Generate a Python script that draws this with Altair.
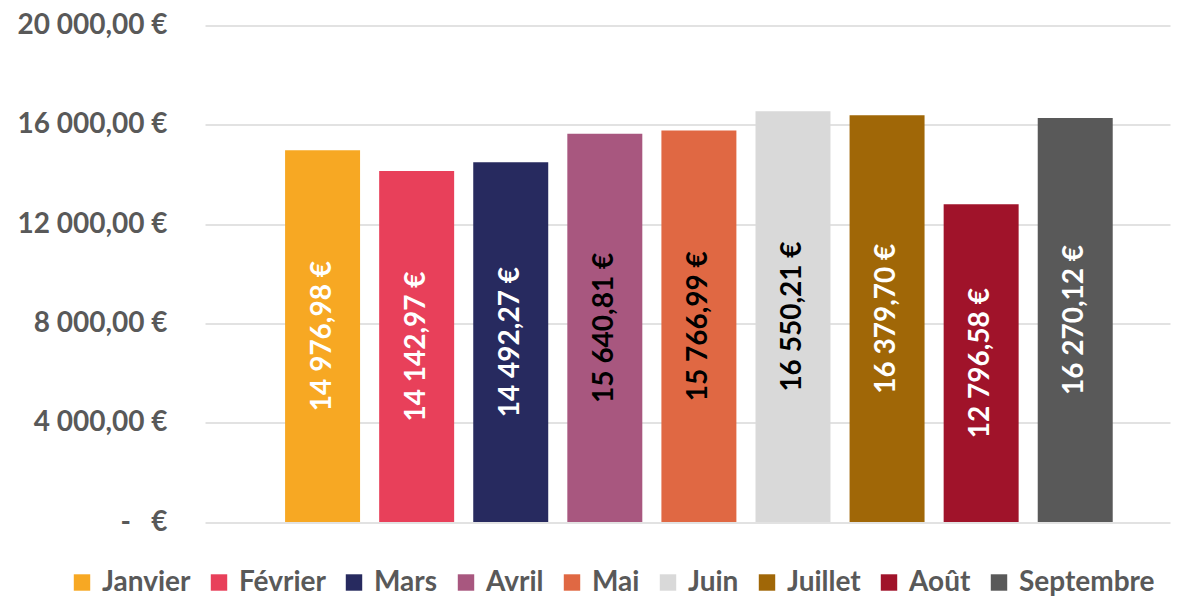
import altair as alt
import pandas as pd

months = ["Janvier", "Février", "Mars", "Avril", "Mai", "Juin", "Juillet", "Août", "Septembre"]
values = [14976.98, 14142.97, 14492.27, 15640.81, 15766.99, 16550.21, 16379.70, 12796.58, 16270.12]
bar_colors = ["#F7A823", "#E8405A", "#272A5F", "#A8577F", "#E06843",
              "#D9D9D9", "#A06707", "#A0132A", "#595959"]
label_colors = ["#FFFFFF", "#FFFFFF", "#FFFFFF", "#000000", "#000000",
                "#000000", "#FFFFFF", "#FFFFFF", "#FFFFFF"]
tick_values = [0, 4000, 8000, 12000, 16000, 20000]
tick_labels = ["-\u00a0\u00a0\u00a0€", "4\u00a0000,00\u00a0€", "8\u00a0000,00\u00a0€",
               "12\u00a0000,00\u00a0€", "16\u00a0000,00\u00a0€", "20\u00a0000,00\u00a0€"]


def fr(v):
    s = f"{v:,.2f}"
    return s.replace(",", "\u00a0").replace(".", ",") + "\u00a0€"


df = pd.DataFrame({
    "mois": months,
    "valeur": values,
    "label": [fr(v) for v in values],
    "lcolor": label_colors,
})

FONT = "Lato"
GRAY = "#595959"
FS = 28

label_expr = " : ".join(
    f"datum.value == {v} ? '{t}'" for v, t in zip(tick_values, tick_labels)
) + " : ''"

xenc = alt.X("mois:N", sort=months, axis=None,
             scale=alt.Scale(paddingInner=0.203, paddingOuter=0.73, align=0.583))

bars = alt.Chart(df).mark_bar().encode(
    x=xenc,
    y=alt.Y("valeur:Q",
            scale=alt.Scale(domain=[0, 20000], nice=False),
            axis=alt.Axis(values=tick_values, labelExpr=label_expr, title=None,
                          domain=False, ticks=False, grid=True,
                          gridColor="#D9D9D9", gridWidth=1.5,
                          labelFont=FONT, labelFontSize=FS, labelFontWeight="bold",
                          labelColor=GRAY, labelPadding=38)),
    color=alt.Color("mois:N", sort=months,
                    scale=alt.Scale(domain=months, range=bar_colors),
                    legend=alt.Legend(title=None, orient="none", direction="horizontal",
                                      legendX=-137, legendY=543,
                                      symbolType="square", symbolSize=270,
                                      symbolStrokeWidth=0, symbolOpacity=1,
                                      labelFont=FONT, labelFontSize=FS,
                                      labelFontWeight="bold", labelColor=GRAY,
                                      labelOffset=6, columnPadding=14,
                                      columns=9, labelLimit=400)),
)

texts = alt.Chart(df).transform_calculate(
    mid="datum.valeur / 2"
).mark_text(angle=270, align="center", baseline="middle",
            font=FONT, fontSize=FS, fontWeight="bold").encode(
    x=alt.X("mois:N", sort=months),
    y=alt.Y("mid:Q"),
    text="label:N",
    color=alt.Color("lcolor:N", scale=None),
)

chart = alt.layer(bars, texts).properties(
    width=965, height=496.5,
    autosize=alt.AutoSizeParams(type="none"),
    padding={"left": 197, "top": 17.5, "right": 5, "bottom": 74},
).configure_view(stroke=None)

chart.save("out.html", embed_options={"renderer": "svg", "actions": False})
